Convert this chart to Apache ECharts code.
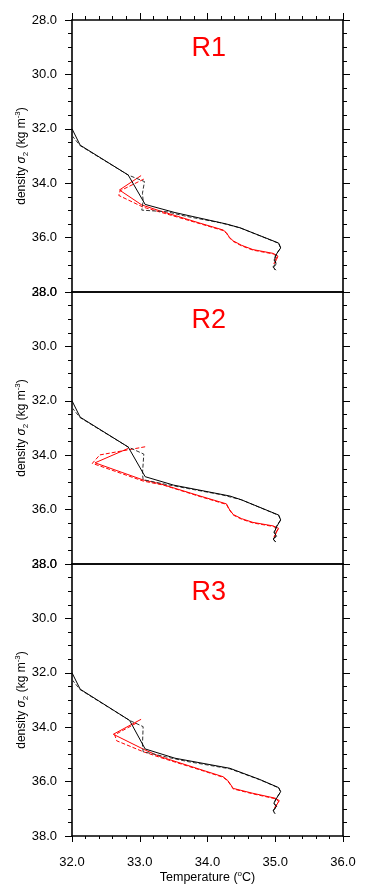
<!DOCTYPE html>
<html>
<head>
<meta charset="utf-8">
<script src="https://cdn.jsdelivr.net/npm/echarts@6/dist/echarts.min.js"></script>
<style>
html,body{margin:0;padding:0;background:#fff;}
#c{width:367px;height:894px;}
</style>
</head>
<body>
<div id="c"></div>
<script>
// ---------- data: [temperature (°C), density sigma2 (kg m-3)] ----------
var panelTitles = ['R1', 'R2', 'R3'];
var xTicks = [32.0, 33.0, 34.0, 35.0, 36.0];
var yTicks = [28.0, 30.0, 32.0, 34.0, 36.0, 38.0];

var r1BlackSolid = [[32.00,32.00],[32.12,32.60],[32.83,33.70],[33.08,34.78],[33.52,35.08],[34.28,35.50],[34.48,35.64],[35.05,36.20],[35.08,36.38],[35.02,36.60],[34.99,36.80],[35.01,36.95],[34.97,37.07],[35.00,37.19]];
var r1BlackDash  = [[32.00,32.25],[32.12,32.62],[32.83,33.70],[33.07,33.94],[33.04,34.37],[33.05,34.65],[33.03,34.99],[33.40,35.05],[33.69,35.22],[34.18,35.45],[34.48,35.64],[35.05,36.21],[35.08,36.38],[35.01,36.62],[34.98,36.82],[35.02,36.97],[34.97,37.10],[35.01,37.20]];
var r1RedSolid   = [[33.02,33.72],[32.70,34.25],[33.03,34.80],[33.30,35.02],[33.89,35.47],[34.23,35.72],[34.28,35.82],[34.32,35.98],[34.38,36.12],[34.50,36.28],[34.67,36.44],[34.97,36.58],[35.04,36.68],[35.02,36.80],[34.99,36.95]];
var r1RedDash    = [[33.06,33.85],[32.71,34.28],[32.69,34.45],[33.05,34.88],[33.30,35.06],[33.89,35.49],[34.23,35.74],[34.28,35.84],[34.32,36.00],[34.38,36.14],[34.50,36.30],[34.67,36.46],[34.97,36.60],[35.03,36.70],[35.00,36.82],[34.98,36.97]];

var r2BlackSolid = [[32.00,32.00],[32.12,32.60],[32.83,33.70],[33.08,34.79],[33.50,35.10],[34.33,35.50],[34.50,35.64],[35.05,36.20],[35.08,36.38],[35.02,36.63],[34.99,36.82],[35.01,36.96],[34.97,37.08],[35.00,37.18]];
var r2BlackDash  = [[32.00,32.25],[32.12,32.62],[32.83,33.70],[33.06,33.96],[33.04,34.67],[33.05,34.90],[33.40,35.08],[33.70,35.22],[34.20,35.45],[34.50,35.64],[35.05,36.21],[35.08,36.38],[35.01,36.64],[34.98,36.84],[35.02,36.98],[34.97,37.10],[35.01,37.19]];
var r2RedSolid   = [[32.83,33.75],[32.34,34.28],[33.05,34.91],[33.30,35.05],[33.89,35.50],[34.28,35.79],[34.32,35.98],[34.38,36.18],[34.50,36.33],[34.67,36.47],[34.97,36.60],[35.05,36.69],[35.02,36.82],[34.99,37.00]];
var r2RedDash    = [[33.08,33.69],[32.41,33.99],[32.30,34.30],[33.05,34.95],[33.35,35.10],[33.89,35.52],[34.28,35.81],[34.32,36.00],[34.38,36.20],[34.50,36.35],[34.67,36.49],[34.97,36.62],[35.04,36.71],[35.01,36.85],[34.98,37.02]];

var r3BlackSolid = [[32.00,32.00],[32.12,32.60],[32.85,33.75],[33.08,34.80],[33.52,35.14],[34.33,35.51],[34.77,35.92],[35.05,36.22],[35.08,36.37],[35.02,36.61],[34.98,36.79],[35.02,36.91],[34.97,37.05],[34.99,37.17]];
var r3BlackDash  = [[32.00,32.25],[32.12,32.62],[32.85,33.75],[33.05,33.98],[33.04,34.65],[33.05,34.90],[33.40,35.10],[33.70,35.26],[34.33,35.53],[34.77,35.93],[35.05,36.23],[35.08,36.38],[35.01,36.63],[34.98,36.81],[35.02,36.93],[34.97,37.08],[35.00,37.18]];
var r3RedSolid   = [[33.02,33.71],[32.61,34.26],[33.08,34.84],[33.30,35.08],[33.89,35.55],[34.23,35.82],[34.30,35.96],[34.38,36.25],[34.67,36.43],[35.00,36.61],[35.06,36.70],[35.02,36.86],[34.99,36.98]];
var r3RedDash    = [[32.95,33.85],[32.63,34.28],[32.66,34.50],[33.05,34.90],[33.30,35.11],[33.89,35.57],[34.23,35.84],[34.30,35.98],[34.38,36.27],[34.67,36.45],[35.00,36.63],[35.05,36.72],[35.01,36.88],[34.98,37.00]];

var panels = [
  {bs: r1BlackSolid, bd: r1BlackDash, rs: r1RedSolid, rd: r1RedDash},
  {bs: r2BlackSolid, bd: r2BlackDash, rs: r2RedSolid, rd: r2RedDash},
  {bs: r3BlackSolid, bd: r3BlackDash, rs: r3RedSolid, rd: r3RedDash}
];

// ---------- layout ----------
var FONT = 'Liberation Sans';
var gridLeft = 72, gridW = 271, gridH = 272, gridTops = [20, 292, 564];

var chart = echarts.init(document.getElementById('c'), null, {renderer: 'canvas'});

var grids = [], xAxes = [], yAxes = [], series = [], graphics = [];
var fmt = function (v) { return v.toFixed(1); };

gridTops.forEach(function (top, i) {
  grids.push({left: gridLeft, top: top, width: gridW, height: gridH, containLabel: false});
  var isLast = i === gridTops.length - 1;
  // bottom x axis
  xAxes.push({
    type: 'value', gridIndex: i, position: 'bottom', min: xTicks[0], max: xTicks[xTicks.length - 1], interval: 1,
    axisLine: {show: true, onZero: false, lineStyle: {color: '#000', width: 1.6}},
    axisTick: {show: isLast, length: 6, lineStyle: {color: '#000', width: 1}},
    minorTick: {show: isLast, splitNumber: 5, length: 3, lineStyle: {color: '#000', width: 1}},
    axisLabel: {show: isLast, formatter: fmt, fontFamily: FONT, fontSize: 13, color: '#000', margin: 20},
    splitLine: {show: false},
    name: isLast ? 'Temperature ({sup|o}C)' : '',
    nameLocation: 'middle', nameGap: 34, nameMoveOverlap: false,
    nameTextStyle: {fontFamily: FONT, fontSize: 12.5, color: '#000', lineHeight: 16,
      rich: {sup: {fontFamily: FONT, fontSize: 8, verticalAlign: 'top', lineHeight: 16, color: '#000'}}}
  });
  // top x axis (ticks only on the first panel)
  xAxes.push({
    type: 'value', gridIndex: i, position: 'top', min: xTicks[0], max: xTicks[xTicks.length - 1], interval: 1,
    axisLine: {show: true, onZero: false, lineStyle: {color: '#000', width: 1.6}},
    axisTick: {show: i === 0, length: 7, lineStyle: {color: '#000', width: 1}},
    minorTick: {show: i === 0, splitNumber: 5, length: 4, lineStyle: {color: '#000', width: 1}},
    axisLabel: {show: false}, splitLine: {show: false}
  });
  // left y axis
  yAxes.push({
    type: 'value', gridIndex: i, position: 'left', inverse: true, min: yTicks[0], max: yTicks[yTicks.length - 1], interval: 2,
    axisLine: {show: true, onZero: false, lineStyle: {color: '#000', width: 1.6}},
    axisTick: {show: true, length: 7, lineStyle: {color: '#000', width: 1}},
    minorTick: {show: true, splitNumber: 4, length: 4, lineStyle: {color: '#000', width: 1}},
    axisLabel: {show: true, formatter: fmt, fontFamily: FONT, fontSize: 13, color: '#000', margin: 15, showMinLabel: true, showMaxLabel: true},
    splitLine: {show: false},
    name: 'density {s|σ}{sub|2} (kg m{sup|-3})',
    nameLocation: 'middle', nameGap: 42, nameMoveOverlap: false,
    nameTextStyle: {fontFamily: FONT, fontSize: 12, color: '#000', lineHeight: 16,
      rich: {
        s: {fontFamily: FONT, fontSize: 12, fontStyle: 'italic', color: '#000', lineHeight: 16},
        sub: {fontFamily: FONT, fontSize: 8, verticalAlign: 'bottom', lineHeight: 16, color: '#000'},
        sup: {fontFamily: FONT, fontSize: 8, verticalAlign: 'top', lineHeight: 16, color: '#000'}
      }}
  });
  // right y axis
  yAxes.push({
    type: 'value', gridIndex: i, position: 'right', inverse: true, min: yTicks[0], max: yTicks[yTicks.length - 1], interval: 2,
    axisLine: {show: true, onZero: false, lineStyle: {color: '#000', width: 1.6}},
    axisTick: {show: true, length: 7, lineStyle: {color: '#000', width: 1}},
    minorTick: {show: true, splitNumber: 4, length: 4, lineStyle: {color: '#000', width: 1}},
    axisLabel: {show: false}, splitLine: {show: false}
  });

  var p = panels[i];
  var defs = [
    {d: p.bs, color: '#000000', type: 'solid', z: 4},
    {d: p.bd, color: '#333333', type: [4, 2], z: 3},
    {d: p.rs, color: '#ff0000', type: 'solid', z: 2},
    {d: p.rd, color: '#ff0000', type: [4, 2], z: 1}
  ];
  defs.forEach(function (s) {
    series.push({
      type: 'line', xAxisIndex: i * 2, yAxisIndex: i * 2, data: s.d,
      showSymbol: false, symbol: 'none', smooth: false, animation: false, z: s.z,
      lineStyle: {color: s.color, width: 1, type: s.type}
    });
  });

  graphics.push({
    type: 'text', left: gridLeft + gridW / 2 - 16, top: top + 15,
    style: {text: panelTitles[i], fill: '#ff0000', font: '27px "Liberation Sans"'}
  });
});

chart.setOption({
  backgroundColor: '#ffffff',
  animation: false,
  grid: grids,
  xAxis: xAxes,
  yAxis: yAxes,
  series: series,
  graphic: graphics
});
</script>
</body>
</html>
